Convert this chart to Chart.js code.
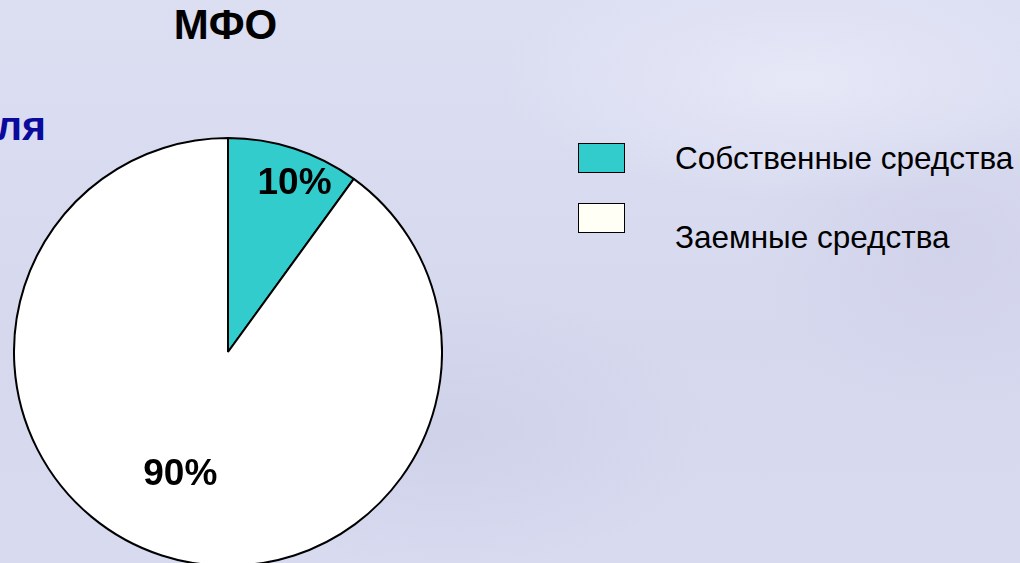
<!DOCTYPE html>
<html>
<head>
<meta charset="utf-8">
<script src="https://cdn.jsdelivr.net/npm/chart.js@4/dist/chart.umd.min.js"></script>
<style>
  html,body{margin:0;padding:0;width:1020px;height:563px;overflow:hidden;}
  body{
    position:relative;
    font-family:"Liberation Sans",Arial,sans-serif;
    background:
      radial-gradient(ellipse 300px 120px at 800px 80px, rgba(235,237,250,0.7), rgba(235,237,250,0)),
      radial-gradient(ellipse 260px 140px at 450px 430px, rgba(200,202,228,0.5), rgba(200,202,228,0)),
      radial-gradient(ellipse 200px 160px at 950px 250px, rgba(205,206,232,0.6), rgba(205,206,232,0)),
      linear-gradient(180deg,#dcdef2 0%,#d6d8ee 60%,#d8daf0 100%);
  }
  .title{position:absolute;left:0;width:451px;top:1px;text-align:center;font-weight:bold;font-size:42px;color:#000;}
  .side{position:absolute;left:-4px;top:103px;font-weight:bold;font-size:41px;color:#0a0a9c;}
  #wrap{position:absolute;left:13px;top:137px;width:430px;height:430px;}
  .leg{position:absolute;left:578px;}
  .leg .box{position:absolute;left:0;width:45px;height:28px;border:1px solid #000;}
  .leg .txt{position:absolute;left:97px;font-size:31.5px;color:#000;white-space:nowrap;}
</style>
</head>
<body>
<div class="title">МФО</div>
<div class="side">ля</div>
<div id="wrap"><canvas id="pie" width="430" height="430"></canvas></div>
<div id="legend"></div>
<script>
// data
const labels = ['Собственные средства','Заемные средства'];
const shares = [10, 90];
const pieColors = ['#33CCCC','#FFFFFF'];
const legendColors = ['#33CCCC','#FFFFF5'];

// legend rows (box top / text top offsets)
const legRows = [{top:143, txt:-3},{top:203, txt:16}];
const legend = document.getElementById('legend');
labels.forEach((l,i)=>{
  const row = document.createElement('div');
  row.className = 'leg';
  row.style.top = legRows[i].top + 'px';
  row.innerHTML = '<div class="box" style="background:'+legendColors[i]+'"></div>'+
    '<div class="txt" style="top:'+legRows[i].txt+'px">'+l+'</div>';
  legend.appendChild(row);
});

// percent labels drawn inside slices (angle fraction within slice, radius fraction)
const labelPos = [{a:0.6, r:0.845},{a:0.51, r:0.615}];
const pctLabels = {
  id:'pctLabels',
  afterDatasetsDraw(chart){
    const ctx = chart.ctx;
    const meta = chart.getDatasetMeta(0);
    ctx.save();
    ctx.font = 'bold 37px "Liberation Sans", Arial, sans-serif';
    ctx.fillStyle = '#000';
    ctx.textAlign = 'center';
    ctx.textBaseline = 'middle';
    meta.data.forEach((arc,i)=>{
      const a = arc.startAngle + (arc.endAngle - arc.startAngle)*labelPos[i].a;
      const r = arc.outerRadius * labelPos[i].r;
      ctx.fillText(shares[i] + '%', arc.x + Math.cos(a)*r, arc.y + Math.sin(a)*r);
    });
    ctx.restore();
  }
};

new Chart(document.getElementById('pie'), {
  type:'pie',
  data:{labels, datasets:[{data:shares, backgroundColor:pieColors, borderColor:'#000', borderWidth:2}]},
  options:{
    responsive:false,
    animation:false,
    layout:{padding:0},
    plugins:{legend:{display:false}, tooltip:{enabled:false}}
  },
  plugins:[pctLabels]
});
</script>
</body>
</html>
